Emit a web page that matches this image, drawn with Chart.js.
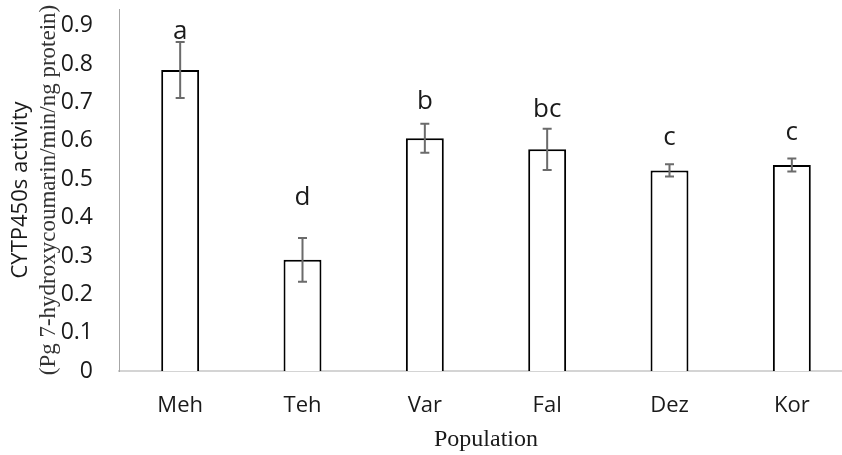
<!DOCTYPE html>
<html>
<head>
<meta charset="utf-8">
<script src="https://cdn.jsdelivr.net/npm/chart.js@4.4.1/dist/chart.umd.min.js"></script>
<style>
    html, body { margin: 0; padding: 0; background: #fff; overflow: hidden; }
    #wrap { width: 856px; height: 455px; }
</style>
</head>
<body>
<div id="wrap"><canvas id="chart-cytp450"></canvas></div>
<script>
// Data
const populations = ['Meh', 'Teh', 'Var', 'Fal', 'Dez', 'Kor'];
const activity = [0.785, 0.290, 0.607, 0.578, 0.523, 0.537];
const stdError = [0.073, 0.057, 0.038, 0.054, 0.016, 0.017];
const groups = ['a', 'd', 'b', 'bc', 'c', 'c'];
const groupLabelAt = [0.867, 0.433, 0.684, 0.662, 0.589, 0.602];
const yTicks = [0, 0.1, 0.2, 0.3, 0.4, 0.5, 0.6, 0.7, 0.8, 0.9];

const sans = '"Open Sans", "DejaVu Sans", sans-serif';
const serif = '"Liberation Serif", "DejaVu Serif", serif';

// error bars + significance letters
const errorBars = {
    id: 'errorBars',
    afterDatasetsDraw(chart) {
        const ctx = chart.ctx;
        const y = chart.scales.y;
        const meta = chart.getDatasetMeta(0);
        ctx.save();
        ctx.strokeStyle = '#6b6b6b';
        ctx.lineWidth = 2;
        meta.data.forEach(function (bar, i) {
            const top = y.getPixelForValue(activity[i] + stdError[i]);
            const bottom = y.getPixelForValue(activity[i] - stdError[i]);
            ctx.beginPath();
            ctx.moveTo(bar.x, top);
            ctx.lineTo(bar.x, bottom);
            ctx.moveTo(bar.x - 4.5, top);
            ctx.lineTo(bar.x + 4.5, top);
            ctx.moveTo(bar.x - 4.5, bottom);
            ctx.lineTo(bar.x + 4.5, bottom);
            ctx.stroke();
        });
        ctx.fillStyle = '#1a1a1a';
        ctx.font = '26px ' + sans;
        ctx.textAlign = 'center';
        ctx.textBaseline = 'alphabetic';
        meta.data.forEach(function (bar, i) {
            ctx.fillText(groups[i], bar.x, y.getPixelForValue(groupLabelAt[i]));
        });
        ctx.restore();
    }
};

let ctx = document.getElementById('chart-cytp450').getContext('2d');
let chart_cytp450 = new Chart(ctx, {
    type: 'bar',
    data: {
        labels: populations,
        datasets: [{
            label: 'CYTP450s activity',
            data: activity,
            backgroundColor: '#ffffff',
            borderColor: '#000000',
            borderWidth: 2,
            borderSkipped: 'start',
            categoryPercentage: 1,
            barPercentage: 0.31
        }]
    },
    options: {
        responsive: true,
        maintainAspectRatio: false,
        animation: false,
        layout: {
            padding: { top: 9, right: 3, bottom: 0, left: 0 }
        },
        scales: {
            x: {
                grid: { display: false, drawTicks: false },
                border: { color: '#d4d4d4', width: 2 },
                ticks: {
                    padding: 22,
                    color: '#1a1a1a',
                    font: { family: sans, size: 22 }
                },
                title: {
                    display: true,
                    text: 'Population',
                    color: '#1a1a1a',
                    padding: { top: 0, bottom: 1 },
                    font: { family: serif, size: 24 }
                },
                afterFit: function (scale) { scale.height = 84; }
            },
            y: {
                min: 0,
                max: 0.944,
                weight: 0,
                grid: { display: false, drawTicks: false },
                border: { color: '#a6a6a6', width: 1 },
                afterBuildTicks: function (scale) {
                    scale.ticks = yTicks.map(function (v) { return { value: v }; });
                },
                ticks: {
                    padding: 26,
                    color: '#1a1a1a',
                    font: { family: sans, size: 23 },
                    callback: function (value) { return String(value); }
                },
                title: {
                    display: true,
                    text: '(Pg 7-hydroxycoumarin/min/ng protein)',
                    color: '#333333',
                    padding: { top: 3, bottom: 0 },
                    font: { family: serif, size: 23 }
                },
                afterFit: function (scale) {
                    scale.width = 87;
                    // tick padding is horizontal only here, keep it off the top/bottom
                    scale.paddingTop = 0;
                    scale.paddingBottom = 0;
                }
            },
            y2: {
                type: 'linear',
                position: 'left',
                weight: 1,
                grid: { display: false, drawTicks: false },
                border: { display: false },
                ticks: { display: false },
                title: {
                    display: true,
                    text: 'CYTP450s activity',
                    color: '#1a1a1a',
                    padding: { top: 8, bottom: 0 },
                    font: { family: sans, size: 22 }
                },
                afterFit: function (scale) { scale.width = 32; }
            }
        },
        plugins: {
            legend: { display: false },
            tooltip: { enabled: false }
        }
    },
    plugins: [errorBars]
});
</script>
</body>
</html>
